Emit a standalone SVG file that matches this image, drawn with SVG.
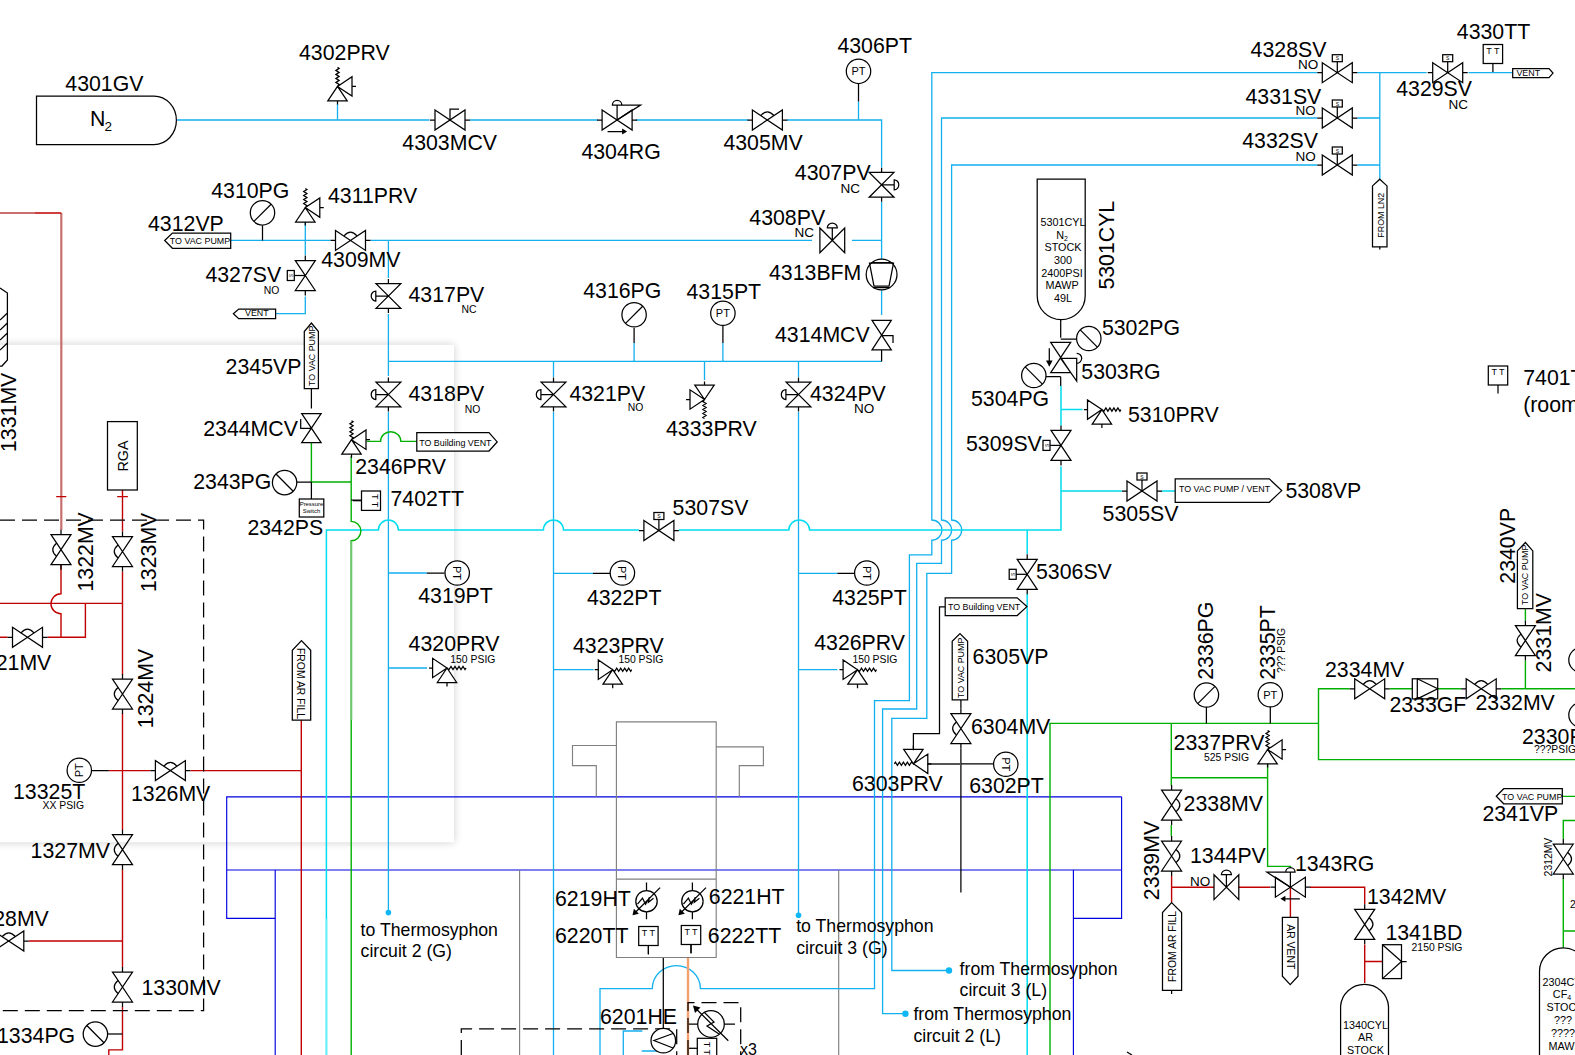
<svg xmlns="http://www.w3.org/2000/svg" width="1575" height="1055" viewBox="0 0 1575 1055">
<style>
text{font-family:"Liberation Sans",Arial,sans-serif;fill:#000;stroke:none}
.l{font-size:21.3px}
.m{font-size:17.7px}
.n{font-size:13.5px}
.s{font-size:10.4px}
.t{font-size:8.9px}
.c{font-size:10.8px;text-anchor:middle}
.a{font-size:11px;text-anchor:middle}
.x{font-size:9px;text-anchor:middle}
path,rect,circle,polygon{fill:none;stroke:#000;stroke-width:1.25}
.o{fill:#fff}
.f{fill:#000;stroke:none}
.b{stroke:#12b0ee;stroke-width:1.3}
.y{stroke:#00dcf0;stroke-width:1.5}
.yp{stroke:#66f0f6;stroke-width:2.2}
.g{stroke:#00b000;stroke-width:1.4}
.gp{stroke:#70c870;stroke-width:2.2}
.r{stroke:#c00000;stroke-width:1.4}
.rp{stroke:#c87070;stroke-width:2.2}
.d{stroke:#0000e0;stroke-width:1.15}
.k{stroke:#808080;stroke-width:1.15}
.q{stroke:#f4a070;stroke-width:2.4}
.h{stroke-dasharray:15 7}
.dot{fill:#0fb8f5;stroke:none}
</style>
<defs>
<filter id="blur" filterUnits="userSpaceOnUse" x="-60" y="300" width="560" height="590"><feGaussianBlur stdDeviation="4"/></filter>
<g id="v"><path d="M-15-10L15 10V-10L-15 10ZM-20 0H-15M15 0H20"/></g>
<g id="mv"><use href="#v"/><path d="M-6.5-4.5Q0-12 6.5-4.5"/></g>
<g id="mcv"><use href="#v"/><path d="M0 0V-11H9"/></g>
<g id="sv"><use href="#v"/><path d="M0 0V-11"/><rect x="-5" y="-18" width="10" height="7"/><text x="0" y="-12.5" text-anchor="middle" font-size="5">S</text></g>
<g id="pv"><path d="M-12.4-12.4L12.4 12.4V-12.4L-12.4 12.4ZM0 0V-12.6M-5-12.6A5 4.6 0 0 1 5-12.6Z"/></g>
<g id="pvl"><use href="#pv"/><path d="M12.4 0H17M-12.4 0H-17"/></g>
<g id="rg"><use href="#v"/><path d="M0 0V-15M-4.7-15A4.7 4.7 0 0 1 4.7-15ZM0-15H23.5L0 0M-9.5 11.6H6"/><path class="f" d="M5 8.6L10 11.6 5 14.6Z"/></g>
<g id="prv"><path d="M0 0L-9.7 14.4H9.7ZM0 0L14.5-9.7V9.7ZM14.5 0H18.5M0 14.4V18M0 0l1.6-2-3.2-2 3.2-2-3.2-2 3.2-2-3.2-2 3.2-2-3.2-2 3.2-2-1.6-1"/></g>
<g id="pg"><circle r="12.2" class="o"/><path d="M-8.6 8.6L8.6-8.6"/></g>
<g id="pt"><circle r="12.2" class="o"/><text class="a" y="4">PT</text></g>
<g id="tt"><rect x="-9.7" y="-9.5" width="19.4" height="19" class="o"/><text class="x" y="-0.5">T T</text><path d="M0 9.5V18"/></g>
<g id="ht"><circle r="10.7"/><path d="M0-18.7V-10.7M0 10.7V18M-9 3L-4-3-1 3 3-4 2 1 7-3M13.6-13.6L-13 13"/><path class="f" d="M-14 14L-12.6 7.6-7.6 12.6Z"/></g>
</defs>

<rect x="-30" y="344.8" width="484" height="497.5" style="fill:#000;stroke:none;opacity:.2" filter="url(#blur)"/>
<rect x="-30" y="344.8" width="484" height="497.5" style="fill:#fff;stroke:none"/>

<g id="connectors">
<path class="d" d="M1121.6 796.8H226.7V918.3H275.2M226.7 870H1121.6M1121.6 796.8V918.3H1073.4M275.2 870V1055M1073.4 870V1055"/>
<path class="k" d="M519.6 870V1055M838.7 870V1055"/>
<path class="rp" d="M0 213H35M61.3 213V530"/>
<path class="r" d="M35 213H61.3M61 564.3V593.7A10 10 0 0 0 61 613.8V637.3M0 603.4H122.5M122.5 490V531.5M122.5 571.6V674.8M122.5 713.4V829.9M122.5 869.4V967.2M122.5 1006.7V1049.9H108.8V1055M85.4 603.4V637.3H47.5M0 637.3H7.5M108.8 770.6H150.4M190.4 770.6H301.3M301.3 720V1055M28.8 941H122.5M56.2 496.6H66.3M117.2 496.6H127.9"/>
<path class="r" d="M1171.6 875.8V902.6M1171.6 887.2H1214M1238.5 887.2H1270M1310 887.2H1364.7V904.2M1364.7 944.4V982.9M1364.7 961.5H1382.5M1290.4 887.2V917.3"/>
<path class="b" d="M176.4 120H429.5M470 120H598M636 120H748.3M786.8 120H881.6V167.4M858.5 101.4V120M337.5 104V120M230.7 240.4H330.5M370.5 240.4H812M852 240.4H881.6M881.6 202V259M881.6 290V315M305.3 222V255M305.3 296.6V313.7H275.6M388.4 240.4V278M388.4 314V376M388.4 412V912.6M388.4 361.4H881.6M553.5 361.4V377M553.5 412V1055M798.5 361.4V377M798.5 412V915.3M634.1 343V361.4M722.9 343V361.4M704.5 361.4V380M388.4 573H426.9M553.5 573.3H593M798.5 573.3H837.4M388.4 668H427M553.5 669.7H593.6M798.5 669.7H837.4"/>
<path class="b" d="M1317.3 72.7H931.8V520A10 10 0 0 1 931.8 540.2V554.9H909.4V700.7H874.5V988.6H700.4A24 23 0 0 0 652.3 988.6H600V1055"/>
<path class="b" d="M1317.3 118H941.5V520A10 10 0 0 1 941.5 540.2V563.3H916.7V709H882.6V1013.7H905.4"/>
<path class="b" d="M1317.3 165H951.6V520A10 10 0 0 1 951.6 540.2V573.3H926.8V718.4H891.8V970.5H949"/>
<path class="b" d="M1357.3 72.7H1426.6M1357.3 118H1379.8M1357.3 165H1379.8M1379.8 72.7V179M1468.5 72.7H1512.7"/>
<path class="b" d="M641.7 1051H660M623.3 1055V1031H642.3"/>
<path class="y" d="M326.4 919V530H378.4A10 10 0 0 1 398.4 530H543.4A10 10 0 0 1 563.5 530H638.9M678.9 530H788.8A10.4 10 0 0 1 809.6 530H1061V466.5M1061 386V425.4M1061 409.6H1082.5M1061 491H1121.9M1162 491H1175.2M1027.2 530V554M1027.2 594V1055"/>
<path class="yp" d="M326.4 919V1055"/>
<path class="g" d="M311.4 442.7V482H351.2M351.2 456.2V521.4A9.7 9.7 0 0 1 351.2 540.8V545M351.2 720V1055M366.6 441.4H380.6A10 9.5 0 0 1 400.8 441.4H416.8M1050 1055V723.4H1318.5V759.6H1575M1318.5 723.4V688.8H1349.7M1389.7 688.8H1412.3M1437.7 688.8H1461.2M1501.2 688.8H1575M1525.4 608.5V620.5M1525.4 660.6V688.8M1171.3 723.4V785.4M1171.3 825V836.3M1171.3 777.7H1267.6M1267.6 763.6V866.4H1290.4V868M1562.3 796.4H1575M1575 820.5H1563.3V839M1563.3 878.4V947.8M1563.3 931H1575"/>
<path class="gp" d="M351.2 541V720"/>
<path class="q" d="M688 957.5V1055"/>
<path d="M858.5 83.5V101.4M262.5 225.5V240.4M634.1 328V343M722.9 326V343M881.6 350V361.4M311.4 388.5V408.6M311.4 482V499M296.6 482H311.4M351.2 500H361.3M426.9 573H444.5M593 573.3H610M837.4 573.3H854.6M91.4 770.6H108.8M663.3 957.5V1028M960.9 699.9V708.5M960.9 748.5V892.5M945.2 606.8H939.5V733.5H913.4V750.2M960.9 763.9H993.6M1060.7 319.7V337.7M1060.7 376.7V386M1060.7 339.2H1076M1046 376.7H1060.7M1206.4 707V723.4M1270.3 707V723.4M1127 1052L1132 1055"/>
<path style="stroke:#555;stroke-width:2" d="M927.4 763.9H960.9"/>
<path class="h" d="M0 520.1H203.6V1010.7H0"/>
<path class="h" d="M461.3 1055V1028.8H676.7V1055"/>
<path class="h" d="M688 1055V1002.5H740.7V1055"/>
</g>

<g id="vessel">
<path class="k" d="M616.4 721.8H716.2V957.5H616.4ZM616.4 879.1H716.2M616.4 745.5H572.5V765.6H596.3V796.8M716.2 746.9H763.4V765.6H739.3V796.8"/>
</g>

<g id="n4301GV"><path d="M36.5 96H154A22.4 24.3 0 0 1 154 144.6H36.5Z"/><text class="l" x="65.3" y="91.4">4301GV</text><text class="l" x="90" y="125.5">N</text><text class="n" x="104.5" y="130.6">2</text></g>
<g id="n4302PRV"><use href="#prv" transform="translate(337.5 86.4)"/><text class="l" x="299" y="60.3">4302PRV</text></g>
<g id="n4303MCV"><use href="#mcv" transform="translate(450 120)"/><text class="l" x="402.3" y="150">4303MCV</text></g>
<g id="n4304RG"><use href="#rg" transform="translate(617.1 120)"/><text class="l" x="581.4" y="159">4304RG</text></g>
<g id="n4305MV"><use href="#mv" transform="translate(767.4 120)"/><text class="l" x="723.4" y="149.5">4305MV</text></g>
<g id="n4306PT"><use href="#pt" transform="translate(858.5 71.3)"/><text class="l" x="837.4" y="52.9">4306PT</text></g>
<g id="n4307PV"><use href="#pvl" transform="translate(881.6 184.8) rotate(90)"/><text class="l" x="794.8" y="180">4307PV</text><text class="n" x="840.4" y="193">NC</text></g>
<g id="n4308PV"><use href="#pv" transform="translate(832.3 240.4)"/><text class="l" x="749.3" y="225">4308PV</text><text class="n" x="794.5" y="237">NC</text></g>
<g id="n4309MV"><use href="#mv" transform="translate(350.5 240.4)"/><text class="l" x="321.2" y="267">4309MV</text></g>
<g id="n4310PG"><use href="#pg" transform="translate(262.5 212.8)"/><text class="l" x="211.2" y="197.5">4310PG</text></g>
<g id="n4311PRV"><use href="#prv" transform="translate(305.3 207.6)"/><text class="l" x="328" y="202.5">4311PRV</text></g>
<g id="n4312VP"><path class="o" d="M164.7 240.5L172.4 233H230.7V248.3H172.4Z"/><text class="t" x="169.8" y="244">TO VAC PUMP</text><text class="l" x="148" y="231">4312VP</text></g>
<g id="n4313BFM"><circle cx="881.6" cy="274.5" r="15.4"/><path d="M869.5 263H893.5L889 286H874ZM871 262.5H892.5M873 287.5H890"/><text class="l" x="769" y="280">4313BFM</text></g>
<g id="n4314MCV"><path d="M872 320.4H891.3L872 349.9H891.3ZM881.6 335.5H893V343"/><text class="l" x="775" y="341.5">4314MCV</text></g>
<g id="n4315PT"><use href="#pt" transform="translate(722.9 313.3)"/><text class="l" x="686.5" y="298.8">4315PT</text></g>
<g id="n4316PG"><use href="#pg" transform="translate(634.1 314.8)"/><text class="l" x="583.2" y="297.5">4316PG</text></g>
<g id="n4317PV"><use href="#pvl" transform="translate(388.4 296) rotate(-90)"/><text class="l" x="408.5" y="302">4317PV</text><text class="s" x="461.4" y="312.5">NC</text></g>
<g id="n4318PV"><use href="#pvl" transform="translate(388.4 394.5) rotate(-90)"/><text class="l" x="408.5" y="401">4318PV</text><text class="s" x="464.7" y="413">NO</text></g>
<g id="n4319PT"><use href="#pt" transform="translate(457.2 573) rotate(90)"/><text class="l" x="418.2" y="602.5">4319PT</text></g>
<g id="n4320PRV"><use href="#prv" transform="translate(447 668) rotate(90)"/><text class="l" x="408.6" y="650.5">4320PRV</text><text class="s" x="450.3" y="663">150 PSIG</text></g>
<g id="n4321PV"><use href="#pvl" transform="translate(553.5 394.5) rotate(-90)"/><text class="l" x="569.4" y="401">4321PV</text><text class="s" x="627.8" y="411">NO</text></g>
<g id="n4322PT"><use href="#pt" transform="translate(622.4 573) rotate(90)"/><text class="l" x="586.9" y="605.3">4322PT</text></g>
<g id="n4323PRV"><use href="#prv" transform="translate(612.7 669.7) rotate(90)"/><text class="l" x="573" y="653">4323PRV</text><text class="s" x="618.4" y="663">150 PSIG</text></g>
<g id="n4324PV"><use href="#pvl" transform="translate(798.5 394.5) rotate(-90)"/><text class="l" x="810" y="400.9">4324PV</text><text class="n" x="854.1" y="413">NO</text></g>
<g id="n4325PT"><use href="#pt" transform="translate(866.8 573) rotate(90)"/><text class="l" x="832.2" y="604.8">4325PT</text></g>
<g id="n4326PRV"><use href="#prv" transform="translate(857.5 669.7) rotate(90)"/><text class="l" x="814.2" y="650">4326PRV</text><text class="s" x="852.4" y="663">150 PSIG</text></g>
<g id="n4327SV"><use href="#sv" transform="translate(305.3 275.5) rotate(-90)"/><text class="l" x="205.4" y="282">4327SV</text><text class="s" x="263.8" y="293.5">NO</text></g>
<g id="n4327vent"><path class="o" d="M233.4 313.8L238.7 309H275.6V318.7H238.7Z"/><text class="t" x="245" y="316.4">VENT</text></g>
<g id="n4328SV"><use href="#sv" transform="translate(1337.3 72.7)"/><text class="l" x="1250.6" y="57">4328SV</text><text class="n" x="1298" y="69.3">NO</text></g>
<g id="n4329SV"><use href="#sv" transform="translate(1447.7 72.7)"/><text class="l" x="1396.2" y="95.8">4329SV</text><text class="n" x="1448.4" y="109">NC</text></g>
<g id="n4330TT"><use href="#tt" transform="translate(1492.9 54)"/><text class="l" x="1456.8" y="38.8">4330TT</text><path class="o" d="M1512.7 68.6H1549L1553 73.1 1549 77.7H1512.7Z"/><text class="t" x="1516.4" y="76.3">VENT</text></g>
<g id="n4331SV"><use href="#sv" transform="translate(1337.3 118)"/><text class="l" x="1245.5" y="103.5">4331SV</text><text class="n" x="1295.4" y="115">NO</text></g>
<g id="n4332SV"><use href="#sv" transform="translate(1337.3 165)"/><text class="l" x="1242.2" y="147.8">4332SV</text><text class="n" x="1295.4" y="161">NO</text></g>
<g id="nFROMLN2"><path class="o" d="M1379.8 179.2L1387 185.9V246.8H1372.5V185.9Z"/><path d="M1379.8 246.8V249.5"/><text class="t" transform="translate(1383.5 237.7) rotate(-90)">FROM LN2</text></g>
<g id="n4333PRV"><use href="#prv" transform="translate(704.5 399.5) rotate(180)"/><text class="l" x="666" y="435.7">4333PRV</text></g>

<g id="n5301CYL"><path d="M1037.2 179H1085.2V295.7A24 24 0 0 1 1037.2 295.7Z"/><text class="c" x="1063" y="225.5">5301CYL</text><text class="c" x="1062" y="238.5">N<tspan font-size="7" dy="2">2</tspan></text><text class="c" x="1063" y="251">STOCK</text><text class="c" x="1063" y="263.5">300</text><text class="c" x="1062" y="277">2400PSI</text><text class="c" x="1062" y="289">MAWP</text><text class="c" x="1063" y="302">49L</text><text class="l" transform="translate(1114.3 289.6) rotate(-90)">5301CYL</text></g>
<g id="n5302PG"><use href="#pg" transform="translate(1088.8 338.5) rotate(90)"/><text class="l" x="1101.9" y="335.3">5302PG</text></g>
<g id="n5303RG"><path d="M1050.7 342.3H1070.7L1050.7 372.7H1070.7ZM1060.7 358.3H1076.7V381L1060.7 358.3M1076.7 353.3A5 5 0 0 1 1076.7 363.3M1049.3 348.3V361"/><path class="f" d="M1046 360.5H1052.6L1049.3 366.7Z"/><text class="l" x="1081.3" y="378.5">5303RG</text></g>
<g id="n5304PG"><use href="#pg" transform="translate(1033.8 375.5) rotate(90)"/><text class="l" x="971" y="405.5">5304PG</text></g>
<g id="n5305SV"><use href="#sv" transform="translate(1142 491)"/><text class="l" x="1102.6" y="521">5305SV</text></g>
<g id="n5306SV"><use href="#sv" transform="translate(1027.2 574.3) rotate(-90)"/><text class="l" x="1036" y="579.3">5306SV</text></g>
<g id="n5307SV"><use href="#sv" transform="translate(658.9 530.5)"/><text class="l" x="672.6" y="515">5307SV</text></g>
<g id="n5308VP"><path class="o" d="M1175.2 478.9H1269.3L1281.7 490.6 1269.3 502.3H1175.2Z"/><text class="t" x="1178.9" y="492">TO VAC PUMP / VENT</text><text class="l" x="1285.4" y="498">5308VP</text></g>
<g id="n5309SV"><use href="#sv" transform="translate(1061 445.4) rotate(-90)"/><text class="l" x="966" y="451">5309SV</text></g>
<g id="n5310PRV"><use href="#prv" transform="translate(1101.9 409.6) rotate(90)"/><text class="l" x="1128" y="421.6">5310PRV</text></g>
<g id="n7401TT"><use href="#tt" transform="translate(1498 375.5)"/><text class="l" x="1523.2" y="385.2">7401TT</text><text class="l" x="1523.2" y="412">(room</text></g>

<g id="n1331MV"><text class="l" transform="translate(16 452) rotate(-90)">1331MV</text><path d="M0 288L7.4 293V360L2 366H0M0 320L7.4 313M0 330L7.4 323M0 340L7.4 333M0 350L7.4 343"/></g>
<g id="n1321MV"><use href="#mv" transform="translate(27.5 637.3)"/><text class="l" x="-28" y="669.8">1321MV</text></g>
<g id="n1322MV"><use href="#mv" transform="translate(61 549.7) rotate(-90)"/><text class="l" transform="translate(92.7 591.5) rotate(-90)">1322MV</text></g>
<g id="n1323MV"><use href="#mv" transform="translate(122.5 551.5) rotate(-90)"/><text class="l" transform="translate(155.7 592) rotate(-90)">1323MV</text></g>
<g id="nRGA"><rect x="107.5" y="421.6" width="29.8" height="68.4"/><text font-size="14.4" text-anchor="middle" transform="translate(128.2 456) rotate(-90)">RGA</text></g>
<g id="n1324MV"><use href="#mv" transform="translate(122.5 694) rotate(-90)"/><text class="l" transform="translate(153.3 728.2) rotate(-90)">1324MV</text></g>
<g id="n13325T"><use href="#pt" transform="translate(79.3 770.3) rotate(-90)"/><text class="l" x="13" y="798.5">13325T</text><text class="s" x="42.5" y="808.8">XX PSIG</text></g>
<g id="n1326MV"><use href="#mv" transform="translate(170.4 770.6)"/><text class="l" x="131" y="800.5">1326MV</text></g>
<g id="n1327MV"><use href="#mv" transform="translate(122.5 849.7) rotate(-90)"/><text class="l" x="30.6" y="857.5">1327MV</text></g>
<g id="n1328MV"><use href="#mv" transform="translate(8.8 941)"/><text class="l" x="-30.5" y="926">1328MV</text></g>
<g id="n1330MV"><use href="#mv" transform="translate(122.5 987) rotate(-90)"/><text class="l" x="141.5" y="995">1330MV</text></g>
<g id="n1334PG"><use href="#pg" transform="translate(95.4 1034.1) rotate(90)"/><path d="M107.6 1034H122.5"/><text class="l" x="-3" y="1043.2">1334PG</text></g>

<g id="n2342PS"><rect x="299.3" y="499" width="24.5" height="18"/><text font-size="5.9" fill="#333" text-anchor="middle" x="311.5" y="505.5">Pressure</text><text font-size="5.9" text-anchor="middle" x="311.5" y="512.8">Switch</text><text class="l" x="247.4" y="534.5">2342PS</text></g>
<g id="n2343PG"><use href="#pg" transform="translate(284.6 482.6) rotate(90)"/><text class="l" x="193.2" y="488.5">2343PG</text></g>
<g id="n2344MCV"><path d="M301.7 413.6H321.1L301.7 442.7H321.1ZM311.4 428.4H300.7V419"/><text class="l" x="203.2" y="435.5">2344MCV</text></g>
<g id="n2345VP"><path class="o" d="M311.4 323L318.4 331.5V388.5H304.3V331.5Z"/><text class="t" transform="translate(315 386) rotate(-90)">TO VAC PUMP</text><text class="l" x="225.6" y="374">2345VP</text></g>
<g id="n2346PRV"><use href="#prv" transform="translate(351.5 439.7)"/><text class="l" x="355.2" y="473.5">2346PRV</text><path class="o" d="M416.8 432.7H489L497.2 441.9 489 451H416.8Z"/><text class="t" x="419.2" y="446.4">TO Building VENT</text></g>
<g id="n7402TT"><use href="#tt" transform="translate(371 500.7) rotate(90)"/><text class="l" x="390.5" y="506">7402TT</text></g>
<g id="nFROMARFILL1"><path class="o" d="M301.5 640.6L310.7 650.3V720.1H292.3V650.3Z"/><text class="s" transform="translate(297.3 648) rotate(90)">FROM AR FILL</text></g>

<g id="n5305VPbox"><path class="o" d="M945.2 597.8H1017.2L1026.9 606.6 1017.2 615.5H945.2Z"/><text class="t" x="947.9" y="610.1">TO Building VENT</text></g>
<g id="n6305VP"><path class="o" d="M960 633.6L967.6 641.3V699.9H952.2V641.3Z"/><text class="t" transform="translate(963.6 698) rotate(-90)">TO VAC PUMP</text><text class="l" x="972.6" y="663.5">6305VP</text></g>
<g id="n6304MV"><use href="#mv" transform="translate(960.9 728.5) rotate(-90)"/><text class="l" x="971" y="734">6304MV</text></g>
<g id="n6303PRV"><use href="#prv" transform="translate(913.4 763.8) rotate(-90)"/><text class="l" x="852" y="790.5">6303PRV</text></g>
<g id="n6302PT"><use href="#pt" transform="translate(1005.8 764.3) rotate(90)"/><text class="l" x="969.2" y="792.8">6302PT</text></g>

<g id="n6219HT"><use href="#ht" transform="translate(646.5 901.2)"/><text class="l" x="555" y="905.5">6219HT</text></g>
<g id="n6221HT"><use href="#ht" transform="translate(692.4 901.2)"/><text class="l" x="708.8" y="904">6221HT</text></g>
<g id="n6220TT"><use href="#tt" transform="translate(648.4 936)"/><path d="M648.4 945V954.5"/><text class="l" x="555" y="943">6220TT</text></g>
<g id="n6222TT"><use href="#tt" transform="translate(691 935)"/><path d="M691 944V953.4"/><text class="l" x="707.8" y="943">6222TT</text></g>
<g id="n6201HE"><circle cx="663.3" cy="1040.7" r="12.3" class="o"/><path d="M673 1033.5L654 1040.5 673 1048"/><text class="l" x="600" y="1024.3">6201HE</text></g>
<g id="nheater"><circle cx="711" cy="1024" r="13.3"/><path d="M694 1006.7L728.3 1040.7M697.7 1024H689M724.3 1024H735M704 1012L714 1022 707 1026 719 1034"/><path class="f" d="M693 1005.5L700.5 1007.5 695 1013Z"/><rect x="697.3" y="1038.3" width="19.4" height="20" class="o"/><path d="M697.3 1048.3H689"/><text class="x" transform="translate(704 1048.3) rotate(90)">T T</text><text class="l" x="740" y="1055" style="font-size:16px">x3</text></g>

<g id="n2330PT"><circle cx="1581" cy="715" r="12.2"/><text class="l" x="1522" y="744">2330PT</text><text class="s" x="1534" y="753">???PSIG</text></g>
<g id="n2331MV"><use href="#mv" transform="translate(1525.4 640.6) rotate(-90)"/><text class="l" transform="translate(1551.2 672.4) rotate(-90)">2331MV</text><circle cx="1581" cy="660" r="12.2"/></g>
<g id="n2332MV"><use href="#mv" transform="translate(1481.2 688.8)"/><text class="l" x="1475.5" y="710">2332MV</text></g>
<g id="n2333GF"><rect x="1412.3" y="678.8" width="25.4" height="20.1"/><path d="M1417.3 678.8V698.9M1417.3 678.8L1437.7 688.8 1417.3 698.9"/><text class="l" x="1389.4" y="712">2333GF</text></g>
<g id="n2334MV"><use href="#mv" transform="translate(1369.7 688.8)"/><text class="l" x="1325" y="676.8">2334MV</text></g>
<g id="n2335PT"><use href="#pt" transform="translate(1270.3 694.8)"/><text class="l" transform="translate(1275.3 679.8) rotate(-90)">2335PT</text><text class="s" transform="translate(1285.4 673) rotate(-90)">??? PSIG</text></g>
<g id="n2336PG"><use href="#pg" transform="translate(1206.4 695)"/><text class="l" transform="translate(1213 679.8) rotate(-90)">2336PG</text></g>
<g id="n2337PRV"><use href="#prv" transform="translate(1267.6 749.5)"/><text class="l" x="1173.6" y="750">2337PRV</text><text class="s" x="1204" y="761.3">525 PSIG</text></g>
<g id="n2338MV"><use href="#mv" transform="translate(1171.6 805.1) rotate(90)"/><text class="l" x="1183.6" y="811">2338MV</text></g>
<g id="n2339MV"><use href="#mv" transform="translate(1171.6 856) rotate(90)"/><text class="l" transform="translate(1158.8 900.2) rotate(-90)">2339MV</text></g>
<g id="n2340VP"><path class="o" d="M1525.4 542.5L1532.8 550.9V608.5H1517.4V550.9Z"/><text class="t" transform="translate(1528.3 605) rotate(-90)">TO VAC PUMP</text><text class="l" transform="translate(1514.7 583.7) rotate(-90)">2340VP</text></g>
<g id="n2341VP"><path class="o" d="M1496.3 796.2L1503.7 788.7H1562.3V803.8H1503.7Z"/><text class="t" x="1502" y="800">TO VAC PUMP</text><text class="l" x="1482.4" y="820.5">2341VP</text></g>
<g id="n2312MV"><use href="#mv" transform="translate(1563.3 859) rotate(90)"/><text class="s" transform="translate(1552.2 876.4) rotate(-90)">2312MV</text><text class="s" x="1570" y="908">2</text></g>
<g id="n2304CYL"><path d="M1539.5 1055V971.5A23.7 23.7 0 0 1 1586.9 971.5V1055"/><text class="c" x="1565" y="986.2">2304CYL</text><text class="c" x="1562" y="998">CF<tspan font-size="7" dy="2">4</tspan></text><text class="c" x="1565" y="1011">STOCK</text><text class="c" x="1563" y="1024">???</text><text class="c" x="1563" y="1036.5">????</text><text class="c" x="1565" y="1049.9">MAWP</text></g>

<g id="nFROMARFILL2"><path class="o" d="M1171.6 902.6L1181.6 912.6V990.3H1162.5V912.6Z"/><path d="M1171.6 990.3V994"/><text class="s" transform="translate(1175.6 981.9) rotate(-90)">FROM AR FILL</text></g>
<g id="n1344PV"><use href="#pv" transform="translate(1226.4 887.2)"/><text class="l" x="1190" y="863.3">1344PV</text><text class="n" x="1190" y="885.8">NO</text></g>
<g id="n1343RG"><use href="#rg" transform="translate(1290.4 887.2) scale(-1 1)"/><text class="l" x="1295" y="870.5">1343RG</text></g>
<g id="nARVENT"><path class="o" d="M1282.4 917.3H1298V976.2L1290.2 984.6 1282.4 976.2Z"/><text class="s" transform="translate(1286.5 924.3) rotate(90)">AR VENT</text></g>
<g id="n1342MV"><use href="#mv" transform="translate(1364.7 924.3) rotate(90)"/><text class="l" x="1367" y="904.3">1342MV</text></g>
<g id="n1341BD"><rect x="1382.5" y="944.7" width="19" height="33.9"/><path d="M1382.5 944.7L1401.5 961.5 1382.5 978.6M1401.5 961.5H1406.6"/><text class="l" x="1385.4" y="939.5">1341BD</text><text class="s" x="1411.6" y="951.1">2150 PSIG</text></g>
<g id="n1340CYL"><path d="M1340.6 1055V1006.3A24 23.4 0 0 1 1388.5 1006.3V1055"/><text class="c" x="1365.5" y="1028.5">1340CYL</text><text class="c" x="1365.5" y="1041">AR</text><text class="c" x="1365.5" y="1053.5">STOCK</text></g>

<g id="lbl-thermo">
<circle class="dot" cx="388.4" cy="912.6" r="2.8"/><text class="m" x="360.6" y="936">to Thermosyphon</text><text class="m" x="360.6" y="957">circuit 2 (G)</text>
<circle class="dot" cx="798.5" cy="915.3" r="2.8"/><text class="m" x="796.2" y="932">to Thermosyphon</text><text class="m" x="796.2" y="954">circuit 3 (G)</text>
<circle class="dot" cx="949" cy="970.5" r="3.2"/><text class="m" x="959.6" y="975.3">from Thermosyphon</text><text class="m" x="959.6" y="995.5">circuit 3 (L)</text>
<circle class="dot" cx="905.4" cy="1013.7" r="3.2"/><text class="m" x="913.4" y="1019.5">from Thermosyphon</text><text class="m" x="913.4" y="1041.5">circuit 2 (L)</text>
</g>
</svg>
